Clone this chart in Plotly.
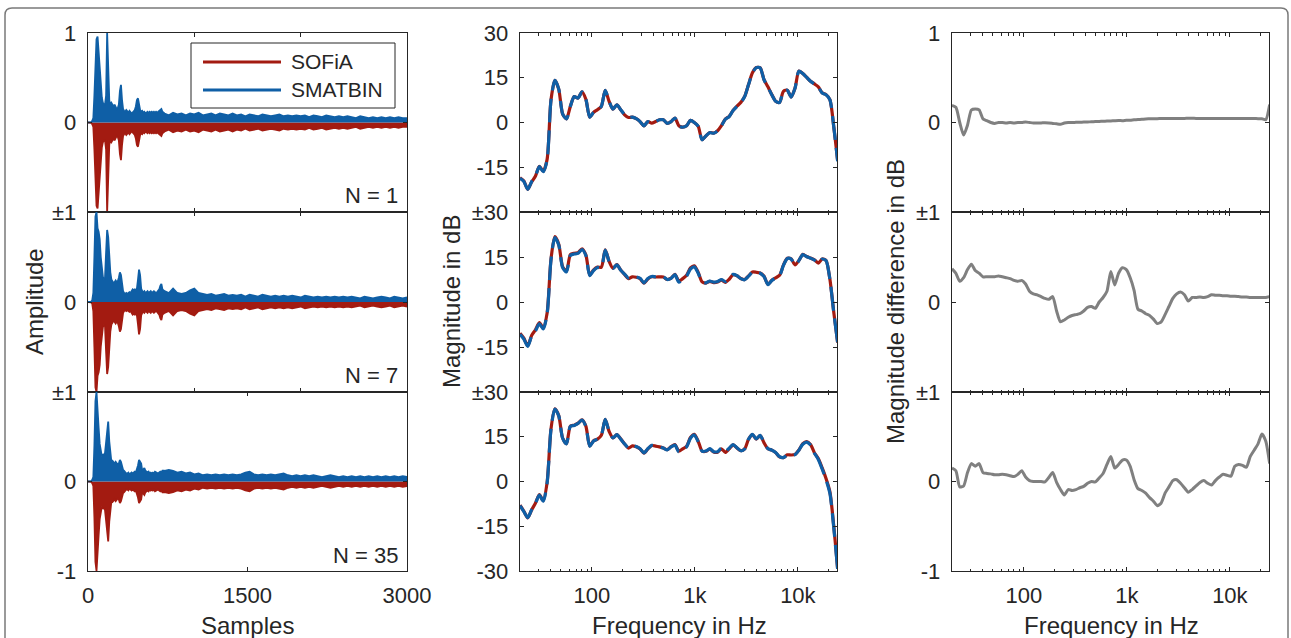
import math
import plotly.graph_objects as go

# ---------------- data ----------------
# Impulse responses: envelope amplitude of SMATBIN (drawn positive) / SOFiA (drawn negative)
ir_samples_head = [0, 30] + list(range(40, 701, 10))
ir_samples_tail = list(range(720, 3001, 40))

ir_n1_head = [0.0, 0.005,
              0.02, 0.05, 0.3, 0.6, 0.93, 0.96, 0.8, 0.55, 0.4, 0.28,
              0.22, 0.2, 0.2, 0.3, 1.0, 0.6, 0.25, 0.2, 0.22, 0.2,
              0.18, 0.2, 0.17, 0.15, 0.16, 0.2, 0.35, 0.42, 0.25, 0.15,
              0.13, 0.12, 0.14, 0.12, 0.11, 0.13, 0.12, 0.1, 0.11, 0.12,
              0.14, 0.18, 0.25, 0.27, 0.2, 0.14, 0.12, 0.13, 0.11, 0.12,
              0.1, 0.11, 0.12, 0.1, 0.12, 0.11, 0.12, 0.11, 0.12, 0.11,
              0.12, 0.11, 0.12, 0.13, 0.14, 0.15, 0.12]
ir_n1_tail = [0.1, 0.08, 0.11, 0.09, 0.1, 0.08, 0.1, 0.09, 0.11, 0.08,
              0.09, 0.1, 0.08, 0.1, 0.09, 0.08, 0.1, 0.08, 0.09, 0.07,
              0.09, 0.08, 0.07, 0.09, 0.08, 0.07, 0.08, 0.09, 0.07, 0.08,
              0.07, 0.08, 0.07, 0.08, 0.06, 0.08, 0.07, 0.06, 0.08, 0.07,
              0.06, 0.07, 0.06, 0.07, 0.06, 0.05, 0.07, 0.06, 0.05, 0.06,
              0.05, 0.06, 0.05, 0.06, 0.05, 0.06, 0.05, 0.05]

ir_n7_head = [0.0, 0.005,
              0.02, 0.1, 0.5, 0.95, 1.0, 0.82, 0.78, 0.7, 0.5, 0.35,
              0.28, 0.25, 0.27, 0.55, 0.8, 0.72, 0.45, 0.33, 0.25, 0.22,
              0.21, 0.22, 0.24, 0.22, 0.23, 0.27, 0.33, 0.3, 0.2, 0.12,
              0.1, 0.09, 0.1, 0.09, 0.1, 0.11, 0.1, 0.12, 0.14, 0.13,
              0.14, 0.13, 0.15, 0.25, 0.36, 0.3, 0.15, 0.12, 0.11, 0.12,
              0.1, 0.11, 0.12, 0.1, 0.11, 0.12, 0.1, 0.11, 0.12, 0.11,
              0.1, 0.11, 0.12, 0.14, 0.18, 0.2, 0.14]
ir_n7_tail = [0.12, 0.1, 0.15, 0.1, 0.09, 0.1, 0.13, 0.15, 0.1, 0.09,
              0.08, 0.09, 0.07, 0.08, 0.09, 0.07, 0.08, 0.07, 0.08, 0.06,
              0.08, 0.07, 0.06, 0.08, 0.07, 0.06, 0.07, 0.06, 0.07, 0.06,
              0.07, 0.06, 0.05, 0.07, 0.06, 0.05, 0.06, 0.05, 0.06, 0.05,
              0.06, 0.05, 0.06, 0.05, 0.06, 0.05, 0.04, 0.06, 0.05, 0.04,
              0.05, 0.06, 0.05, 0.04, 0.06, 0.05, 0.04, 0.05]

ir_n35_head = [0.0, 0.005,
               0.02, 0.05, 0.4, 0.9, 1.0, 0.85, 0.6, 0.42, 0.32, 0.28,
               0.3, 0.3, 0.32, 0.45, 0.55, 0.67, 0.45, 0.28, 0.22, 0.23,
               0.22, 0.2, 0.22, 0.2, 0.19, 0.2, 0.24, 0.22, 0.17, 0.13,
               0.12, 0.1, 0.09, 0.09, 0.1, 0.08, 0.09, 0.1, 0.09, 0.1,
               0.11, 0.1, 0.13, 0.18, 0.24, 0.22, 0.2, 0.12, 0.14, 0.15,
               0.12, 0.11, 0.1, 0.11, 0.09, 0.1, 0.09, 0.1, 0.09, 0.11,
               0.1, 0.1, 0.09, 0.1, 0.11, 0.1, 0.12]
ir_n35_tail = [0.12, 0.13, 0.12, 0.1, 0.11, 0.09, 0.1, 0.08, 0.09, 0.07,
               0.08, 0.07, 0.08, 0.07, 0.08, 0.07, 0.08, 0.07, 0.08, 0.1,
               0.11, 0.08, 0.07, 0.08, 0.07, 0.08, 0.07, 0.08, 0.09, 0.07,
               0.06, 0.07, 0.06, 0.07, 0.06, 0.07, 0.06, 0.05, 0.06, 0.07,
               0.06, 0.05, 0.06, 0.05, 0.06, 0.05, 0.06, 0.05, 0.06, 0.05,
               0.06, 0.05, 0.06, 0.05, 0.06, 0.05, 0.06, 0.05]

# Magnitude responses on a 1/8-octave frequency grid starting at 20 Hz
freq_hz = [20 * 2 ** (k / 8) for k in range(83)]

# SMATBIN magnitude in dB
mag_n1 = [-18.7, -19.8, -22.4, -19.8, -17.9, -14.8, -16.5, -12.5, 7.5, 14.1,
          11.2, 2.9, 1.2, 5.4, 8.7, 8.2, 10.3, 7.8, 1.8, 3.4,
          4.3, 5.4, 10.8, 7.1, 4.5, 5.9, 4.3, 2.6, 1.7, 1.8,
          1.3, 0.3, -1.1, 0.3, -0.2, 0.3, 0.9, 0.9, -0.3, 0.3,
          1.5, -1.1, -1.6, -1.1, 0.7, 0.0, -1.3, -5.8, -4.5, -3.4,
          -3.6, -2.8, -1.1, 1.1, 2.0, 4.0, 5.4, 6.7, 8.7, 12.7,
          16.6, 18.4, 18.3, 14.3, 11.9, 9.3, 7.1, 6.7, 10.4, 10.8,
          8.5, 11.5, 17.2, 16.4, 15.1, 13.8, 12.9, 11.9, 9.9, 9.3,
          7.6, -1.5, -13.0]
mag_n7 = [-10.8, -12.4, -14.8, -11.4, -9.6, -7.3, -9.0, -4.0, 14.0, 21.5,
          19.0, 11.5, 10.0, 15.5, 16.0, 16.2, 17.5, 15.5, 8.8, 10.5,
          11.5, 11.5, 17.3, 13.5, 11.2, 12.4, 10.6, 9.3, 8.0, 8.6,
          8.4, 7.9, 6.4, 7.8, 8.5, 8.4, 8.4, 8.4, 7.5, 7.9,
          9.1, 6.6, 7.6, 8.6, 11.0, 11.7, 9.6, 6.6, 6.4, 7.0,
          6.6, 6.8, 7.5, 6.8, 7.8, 9.2, 8.8, 7.8, 7.4, 8.6,
          9.9, 9.9, 9.6, 8.5, 5.8, 7.2, 8.0, 8.8, 12.2, 14.5,
          14.3, 12.3, 13.8, 15.8, 15.1, 14.6, 14.0, 12.9, 14.3, 13.8,
          7.5, -3.5, -13.6]
mag_n35 = [-8.1, -10.1, -12.1, -9.5, -7.3, -4.6, -6.6, -0.5, 17.5, 24.3,
           22.0, 14.5, 12.6, 18.5, 18.8, 19.5, 20.6, 18.5, 11.8, 13.6,
           14.2, 15.5, 20.8, 16.8, 14.6, 15.7, 14.2, 12.6, 11.3, 12.1,
           11.7, 11.0, 9.6, 11.0, 12.1, 11.9, 11.6, 11.2, 10.6, 11.6,
           12.2, 9.9, 10.8, 11.6, 14.5, 15.6, 13.3, 10.2, 10.2, 11.0,
           10.0, 10.0, 11.2, 10.0, 11.2, 12.4, 11.3, 10.3, 10.9, 14.2,
           15.8, 14.3, 15.5, 13.0, 11.0, 10.5, 9.7, 8.3, 8.0, 8.9,
           8.8, 9.0, 10.5, 12.5, 13.2, 12.2, 9.5, 7.4, 4.2, 0.6,
           -4.0, -15.5, -29.5]

# Magnitude difference SOFiA - SMATBIN in dB
diff_n1 = [0.19, 0.17, 0.0, -0.14, -0.03, 0.14, 0.15, 0.14, 0.04, 0.02,
           0.0, -0.01, 0.0, 0.0, -0.005, 0.0, -0.005, 0.0, 0.0, 0.005,
           0.0, -0.005, -0.005, -0.005, -0.003, -0.005, -0.01, -0.015, -0.02, -0.005,
           0.0, 0.0, 0.002, 0.003, 0.005, 0.006, 0.008, 0.01, 0.012, 0.014,
           0.016, 0.018, 0.02, 0.022, 0.02, 0.024, 0.026, 0.03, 0.033, 0.036,
           0.04, 0.041, 0.042, 0.043, 0.044, 0.045, 0.045, 0.046, 0.046, 0.046,
           0.046, 0.047, 0.047, 0.046, 0.046, 0.046, 0.046, 0.046, 0.045, 0.045,
           0.045, 0.045, 0.045, 0.045, 0.045, 0.045, 0.044, 0.044, 0.044, 0.043,
           0.042, 0.03, 0.2]
diff_n7 = [0.37, 0.32, 0.23, 0.27, 0.36, 0.42, 0.35, 0.32, 0.28, 0.28,
           0.28, 0.28, 0.29, 0.28, 0.27, 0.26, 0.24, 0.23, 0.24, 0.2,
           0.12, 0.09, 0.08, 0.06, 0.04, 0.03, 0.06, -0.1, -0.22, -0.2,
           -0.17, -0.15, -0.14, -0.13, -0.1, -0.06, -0.05, -0.07, 0.0, 0.05,
           0.12, 0.34, 0.19, 0.32, 0.38, 0.36, 0.27, 0.13, -0.08, -0.1,
           -0.13, -0.15, -0.19, -0.24, -0.22, -0.14, -0.05, 0.04, 0.09, 0.11,
           0.08, 0.01, 0.05, 0.05, 0.055, 0.05, 0.06, 0.08, 0.075, 0.075,
           0.07, 0.07, 0.065, 0.065, 0.06, 0.055, 0.055, 0.05, 0.05, 0.05,
           0.05, 0.05, 0.06]
diff_n35 = [0.15, 0.12, -0.06, -0.05, 0.1, 0.2, 0.17, 0.2, 0.1, 0.09,
            0.085, 0.075, 0.075, 0.08, 0.075, 0.065, 0.055, 0.08, 0.12, 0.05,
            0.01, 0.0, 0.0, 0.0, -0.005, 0.045, 0.1, -0.01, -0.09, -0.15,
            -0.09, -0.1, -0.09, -0.07, -0.055, -0.02, 0.0, -0.005, 0.04, 0.09,
            0.19, 0.28, 0.15, 0.19, 0.24, 0.24, 0.17, 0.02, -0.08, -0.1,
            -0.13, -0.18, -0.22, -0.27, -0.24, -0.13, -0.06, 0.01, 0.02, -0.02,
            -0.07, -0.12, -0.09, -0.05, -0.01, 0.01, -0.02, -0.04, 0.01, 0.05,
            0.08, 0.07, 0.06, 0.17, 0.19, 0.18, 0.16, 0.28, 0.35, 0.42,
            0.53, 0.45, 0.2]

order_labels = ["N = 1", "N = 7", "N = 35"]
series_names = ["SOFiA", "SMATBIN"]

ir_rows = [(ir_n1_head, ir_n1_tail), (ir_n7_head, ir_n7_tail), (ir_n35_head, ir_n35_tail)]
mag_rows = [mag_n1, mag_n7, mag_n35]
diff_rows = [diff_n1, diff_n7, diff_n35]

# ---------------- styling ----------------
W, H = 1291, 638
RED = "#a31b11"
BLUE = "#0f5fa6"
GREY = "#808080"
AX = "#262626"
FONT = "Liberation Sans, Arial, Helvetica, sans-serif"


def fx(p):
    return p / W


def fy(p):
    return 1 - p / H


col_px = [(88, 407), (520, 837), (952, 1269)]
row_px = [(33, 212), (212, 392), (392, 571)]

minor_freqs = ([20, 30, 40, 50, 60, 70, 80, 90] + [200, 300, 400, 500, 600, 700, 800, 900]
               + [2000, 3000, 4000, 5000, 6000, 7000, 8000, 9000] + [20000])

fig = go.Figure()
layout = {}

for r in range(3):
    for c in range(3):
        i = r * 3 + c + 1
        xname = "x" if i == 1 else f"x{i}"
        yname = "y" if i == 1 else f"y{i}"
        xkey = "xaxis" if i == 1 else f"xaxis{i}"
        ykey = "yaxis" if i == 1 else f"yaxis{i}"

        common = dict(showline=True, linecolor=AX, linewidth=1.3, mirror="ticks",
                      ticks="inside", ticklen=4, tickwidth=1, tickcolor=AX,
                      showgrid=False, zeroline=False, tickmode="array",
                      tickfont=dict(family=FONT, size=22, color=AX))
        xa = dict(common, domain=[fx(col_px[c][0]), fx(col_px[c][1])], anchor=yname,
                  ticklabelstandoff=4)
        ya = dict(common, domain=[fy(row_px[r][1]), fy(row_px[r][0])], anchor=xname,
                  ticklabelstandoff=6)

        if c == 0:
            xa.update(type="linear", range=[0, 3000])
            if r < 2:
                xa.update(tickvals=[0, 1000, 2000, 3000], showticklabels=False)
            else:
                xa.update(tickvals=[0, 1500, 3000], ticktext=["0", "1500", "3000"])
        else:
            xa.update(type="log", range=[math.log10(20), math.log10(24000)],
                      tickvals=[100, 1000, 10000], ticktext=["100", "1k", "10k"],
                      showticklabels=(r == 2),
                      minor=dict(ticks="inside", ticklen=2.5, tickwidth=1, tickcolor=AX,
                                 tickvals=minor_freqs, showgrid=False))

        if c == 1:
            ya.update(range=[-30, 30])
            if r == 0:
                ya.update(tickvals=[-15, 0, 15, 30], ticktext=["-15", "0", "15", "30"])
            elif r == 1:
                ya.update(tickvals=[-15, 0, 15, 30], ticktext=["-15", "0", "15", "±30"])
            else:
                ya.update(tickvals=[-30, -15, 0, 15, 30],
                          ticktext=["-30", "-15", "0", "15", "±30"])
        else:
            ya.update(range=[-1, 1])
            if r == 0:
                ya.update(tickvals=[0, 1], ticktext=["0", "1"])
            elif r == 1:
                ya.update(tickvals=[0, 1], ticktext=["0", "±1"])
            else:
                ya.update(tickvals=[-1, 0, 1], ticktext=["-1", "0", "±1"])

        layout[xkey] = xa
        layout[ykey] = ya

        if c == 0:
            head, tail = ir_rows[r]
            xs = ir_samples_head + ir_samples_tail
            env = head + tail
            fig.add_trace(go.Scatter(x=xs, y=[-v for v in env], mode="lines", name=series_names[0],
                                     line=dict(color=RED, width=1.8), fill="tozeroy", fillcolor=RED,
                                     showlegend=False, xaxis=xname, yaxis=yname))
            fig.add_trace(go.Scatter(x=xs, y=env, mode="lines", name=series_names[1],
                                     line=dict(color=BLUE, width=1.8), fill="tozeroy", fillcolor=BLUE,
                                     showlegend=False, xaxis=xname, yaxis=yname))
        elif c == 1:
            mag = mag_rows[r]
            dif = diff_rows[r]
            fig.add_trace(go.Scatter(x=freq_hz, y=[m + d for m, d in zip(mag, dif)], mode="lines",
                                     name=series_names[0],
                                     line=dict(color=RED, width=3.2, shape="spline", smoothing=0.7),
                                     showlegend=False, xaxis=xname, yaxis=yname))
            fig.add_trace(go.Scatter(x=freq_hz, y=mag, mode="lines", name=series_names[1],
                                     line=dict(color=BLUE, width=3.2, dash="24px,8px",
                                               shape="spline", smoothing=0.7),
                                     showlegend=False, xaxis=xname, yaxis=yname))
        else:
            fig.add_trace(go.Scatter(x=freq_hz, y=diff_rows[r], mode="lines",
                                     name="Difference",
                                     line=dict(color=GREY, width=3, shape="spline", smoothing=0.6),
                                     showlegend=False, xaxis=xname, yaxis=yname))

annotations = []


def ann(text, x, y, size=24, angle=0, xanchor="center", yanchor="middle"):
    annotations.append(dict(text=text, x=fx(x), y=fy(y), xref="paper", yref="paper",
                            showarrow=False, textangle=angle, xanchor=xanchor, yanchor=yanchor,
                            font=dict(family=FONT, size=size, color=AX)))


ann("Amplitude", 34, 302, angle=-90)
ann("Magnitude in dB", 451, 302, angle=-90)
ann("Magnitude difference in dB", 895, 302, angle=-90)
ann("Samples", 247, 625)
ann("Frequency in Hz", 679, 625)
ann("Frequency in Hz", 1111, 625)
for r, lab in enumerate(order_labels):
    ann(lab, 400, [195, 375, 555][r], size=22, xanchor="right")
# legend entries
ann(series_names[0], 289, 62, size=21, xanchor="left")
ann(series_names[1], 289, 90, size=21, xanchor="left")

shapes = [
    # legend box and line samples
    dict(type="rect", xref="paper", yref="paper", x0=fx(191), x1=fx(395), y0=fy(108), y1=fy(43),
         line=dict(color=AX, width=1), fillcolor="white", layer="above"),
    dict(type="line", xref="paper", yref="paper", x0=fx(203), x1=fx(281), y0=fy(62), y1=fy(62),
         line=dict(color=RED, width=3), layer="above"),
    dict(type="line", xref="paper", yref="paper", x0=fx(203), x1=fx(281), y0=fy(90), y1=fy(90),
         line=dict(color=BLUE, width=3), layer="above"),
]
# outer rounded frame
rr = 7
path = (f"M {fx(5)},{fy(660)} L {fx(5)},{fy(8 + rr)} Q {fx(5)},{fy(8)} {fx(5 + rr)},{fy(8)} "
        f"L {fx(1288 - rr)},{fy(8)} Q {fx(1288)},{fy(8)} {fx(1288)},{fy(8 + rr)} L {fx(1288)},{fy(660)}")
shapes.append(dict(type="path", xref="paper", yref="paper", path=path,
                   line=dict(color="#7a7a7a", width=1.5), layer="below"))

fig.update_layout(width=W, height=H, margin=dict(l=0, r=0, t=0, b=0),
                  paper_bgcolor="white", plot_bgcolor="white", template="none",
                  showlegend=False, annotations=annotations, shapes=shapes,
                  font=dict(family=FONT, color=AX), hovermode=False, **layout)

# place the figure flush with the page's top-left corner (no default body margin)
fig.write_html("out.html",
               config={"displayModeBar": False, "staticPlot": True},
               post_script="document.body.style.margin='0';document.body.style.overflow='hidden';")
